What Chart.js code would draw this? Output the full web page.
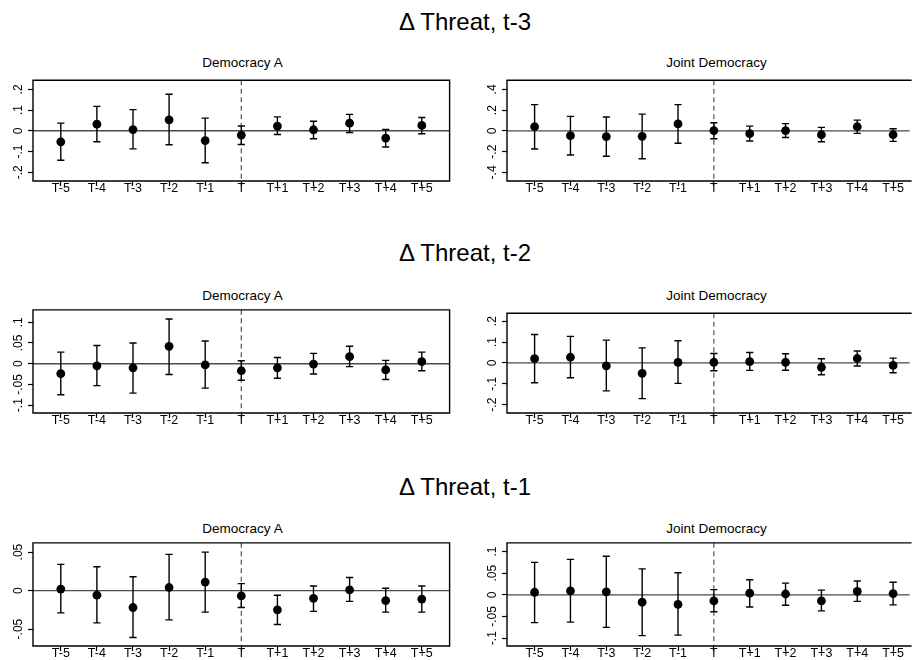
<!DOCTYPE html>
<html><head><meta charset="utf-8">
<script src="https://cdn.jsdelivr.net/npm/chart.js@4.4.1/dist/chart.umd.min.js"></script>
<style>
html,body{margin:0;padding:0;background:#fff;width:915px;height:660px;overflow:hidden;position:relative;font-family:"Liberation Sans",Arial,sans-serif;}
.rowt{position:absolute;width:400px;left:265px;text-align:center;font-size:24px;line-height:30px;color:#000;white-space:nowrap;}
.pt{position:absolute;width:300px;text-align:center;font-size:13.5px;line-height:16px;color:#000;white-space:nowrap;}
.pc{position:absolute;overflow:hidden;}
</style></head><body>
<script>
// ---------- data ----------
const eventTime = [-5,-4,-3,-2,-1,0,1,2,3,4,5];
const xLabels = ["T-5","T-4","T-3","T-2","T-1","T","T+1","T+2","T+3","T+4","T+5"];
const rowTitles = ["\u0394 Threat, t-3","\u0394 Threat, t-2","\u0394 Threat, t-1"];
const panelTitles = ["Democracy A","Joint Democracy"];

const demA_t3_est = [-0.053, 0.032, 0.006, 0.053, -0.047, -0.021, 0.023, 0.005, 0.037, -0.035, 0.026];
const demA_t3_lo  = [-0.142, -0.053, -0.087, -0.067, -0.154, -0.066, -0.018, -0.038, -0.008, -0.078, -0.014];
const demA_t3_hi  = [0.037, 0.118, 0.102, 0.176, 0.061, 0.023, 0.067, 0.046, 0.079, 0.006, 0.064];

const joint_t3_est = [0.040, -0.046, -0.055, -0.052, 0.067, 0.003, -0.027, 0.003, -0.037, 0.040, -0.037];
const joint_t3_lo  = [-0.174, -0.232, -0.244, -0.269, -0.119, -0.076, -0.098, -0.064, -0.104, -0.024, -0.101];
const joint_t3_hi  = [0.253, 0.140, 0.134, 0.162, 0.253, 0.079, 0.046, 0.070, 0.034, 0.104, 0.021];

const demA_t2_est = [-0.024, -0.005, -0.010, 0.042, -0.003, -0.017, -0.010, -0.001, 0.017, -0.015, 0.005];
const demA_t2_lo  = [-0.075, -0.053, -0.071, -0.026, -0.059, -0.040, -0.035, -0.025, -0.007, -0.038, -0.017];
const demA_t2_hi  = [0.028, 0.044, 0.050, 0.108, 0.055, 0.007, 0.015, 0.025, 0.042, 0.008, 0.028];

const joint_t2_est = [0.020, 0.027, -0.014, -0.050, 0.002, 0.003, 0.006, 0.003, -0.021, 0.021, -0.012];
const joint_t2_lo  = [-0.095, -0.071, -0.134, -0.171, -0.098, -0.038, -0.036, -0.035, -0.057, -0.015, -0.047];
const joint_t2_hi  = [0.136, 0.127, 0.109, 0.072, 0.106, 0.045, 0.050, 0.044, 0.020, 0.057, 0.023];

const demA_t1_est = [0.002, -0.006, -0.022, 0.004, 0.011, -0.007, -0.025, -0.010, 0.001, -0.013, -0.011];
const demA_t1_lo  = [-0.029, -0.042, -0.061, -0.038, -0.028, -0.022, -0.044, -0.027, -0.014, -0.028, -0.028];
const demA_t1_hi  = [0.034, 0.031, 0.018, 0.047, 0.050, 0.009, -0.006, 0.006, 0.017, 0.003, 0.006];

const joint_t1_est = [0.006, 0.009, 0.007, -0.017, -0.022, -0.014, 0.004, 0.002, -0.014, 0.008, 0.003];
const joint_t1_lo  = [-0.064, -0.063, -0.075, -0.094, -0.093, -0.039, -0.028, -0.024, -0.037, -0.015, -0.023];
const joint_t1_hi  = [0.075, 0.082, 0.089, 0.060, 0.051, 0.012, 0.035, 0.027, 0.011, 0.032, 0.029];

// y tick values and labels
const yTicks_demA_t3 = [-0.2,-0.1,0,0.1,0.2];   const yLabels_demA_t3 = ["-.2","-.1","0",".1",".2"];
const yTicks_joint_t3 = [-0.4,-0.2,0,0.2,0.4];  const yLabels_joint_t3 = ["-.4","-.2","0",".2",".4"];
const yTicks_demA_t2 = [-0.1,-0.05,0,0.05,0.1]; const yLabels_demA_t2 = ["-.1","-.05","0",".05",".1"];
const yTicks_joint_t2 = [-0.2,-0.1,0,0.1,0.2];  const yLabels_joint_t2 = ["-.2","-.1","0",".1",".2"];
const yTicks_demA_t1 = [-0.05,0,0.05];          const yLabels_demA_t1 = ["-.05","0",".05"];
const yTicks_joint_t1 = [-0.1,-0.05,0,0.05,0.1];const yLabels_joint_t1 = ["-.1","-.05","0",".05",".1"];

// ---------- layout ----------
const FONT = '"Liberation Sans", Arial, sans-serif';
const PADT = 4, XH = 24, YW = 33;
const rowBoxTop = [75, 308, 541];
const rowBoxH = [106, 105, 105];
const rowTitleY = [22, 253, 487];
const colLeft = [0, 474];
const colWidth = [455, 441];
const colPadRight = [3, 0];
const colXMax = [5.77, 5.46];
const colCut = [false, true];
const colTitleX = [242.5, 716.5];

const panels = [
  {row:0,col:0,est:demA_t3_est,lo:demA_t3_lo,hi:demA_t3_hi,ticks:yTicks_demA_t3,labels:yLabels_demA_t3,ymin:-0.242,ymax:0.244},
  {row:0,col:1,est:joint_t3_est,lo:joint_t3_lo,hi:joint_t3_hi,ticks:yTicks_joint_t3,labels:yLabels_joint_t3,ymin:-0.483,ymax:0.489},
  {row:1,col:0,est:demA_t2_est,lo:demA_t2_lo,hi:demA_t2_hi,ticks:yTicks_demA_t2,labels:yLabels_demA_t2,ymin:-0.119,ymax:0.130},
  {row:1,col:1,est:joint_t2_est,lo:joint_t2_lo,hi:joint_t2_hi,ticks:yTicks_joint_t2,labels:yLabels_joint_t2,ymin:-0.240,ymax:0.238},
  {row:2,col:0,est:demA_t1_est,lo:demA_t1_lo,hi:demA_t1_hi,ticks:yTicks_demA_t1,labels:yLabels_demA_t1,ymin:-0.072,ymax:0.062},
  {row:2,col:1,est:joint_t1_est,lo:joint_t1_lo,hi:joint_t1_hi,ticks:yTicks_joint_t1,labels:yLabels_joint_t1,ymin:-0.118,ymax:0.120}
];

// titles
rowTitles.forEach((t,r)=>{
  const d=document.createElement('div'); d.className='rowt'; d.textContent=t;
  d.style.top=(rowTitleY[r]-15)+'px'; document.body.appendChild(d);
});
for(let r=0;r<3;r++){
  panelTitles.forEach((t,c)=>{
    const d=document.createElement('div'); d.className='pt'; d.textContent=t;
    d.style.left=(colTitleX[c]-150)+'px'; d.style.top=(rowBoxTop[r]-11.6-8)+'px';
    document.body.appendChild(d);
  });
}

const measCtx = document.createElement('canvas').getContext('2d');
measCtx.font = '12px ' + FONT;

const framePlugin = {
  id:'frame',
  beforeDatasetsDraw(chart){
    const {ctx, chartArea:a, scales:{x,y}} = chart;
    ctx.save();
    const y0 = y.getPixelForValue(0);
    ctx.strokeStyle='#4a4a4a'; ctx.lineWidth=1.4;
    ctx.beginPath(); ctx.moveTo(a.left,y0); ctx.lineTo(a.right,y0); ctx.stroke();
    const x0 = x.getPixelForValue(0);
    ctx.setLineDash([5,3.5]); ctx.strokeStyle='#555'; ctx.lineWidth=1.2;
    ctx.beginPath(); ctx.moveTo(x0,a.top); ctx.lineTo(x0,a.bottom); ctx.stroke();
    ctx.restore();
  },
  afterDraw(chart){
    const {ctx, chartArea:a} = chart;
    const cut = chart.options.plugins.frame && chart.options.plugins.frame.cut;
    ctx.save(); ctx.strokeStyle='#000'; ctx.lineWidth=1.4;
    ctx.beginPath();
    if (cut) {
      ctx.moveTo(a.right+2,a.top); ctx.lineTo(a.left,a.top); ctx.lineTo(a.left,a.bottom); ctx.lineTo(a.right+2,a.bottom);
    } else {
      ctx.rect(a.left,a.top,a.right-a.left,a.bottom-a.top);
    }
    ctx.stroke();
    ctx.restore();
  }
};

panels.forEach(p=>{
  const CW = colWidth[p.col];
  const wrap=document.createElement('div'); wrap.className='pc';
  const H = PADT + rowBoxH[p.row] + XH;
  wrap.style.left=colLeft[p.col]+'px'; wrap.style.top=(rowBoxTop[p.row]-PADT)+'px';
  wrap.style.width=CW+'px'; wrap.style.height=H+'px';
  const cv=document.createElement('canvas'); cv.width=CW; cv.height=H;
  cv.style.width=CW+'px'; cv.style.height=H+'px';
  wrap.appendChild(cv); document.body.appendChild(wrap);

  const pts = p.est.map((v,i)=>({x:eventTime[i], y:v}));
  const bars = [];
  p.lo.forEach((l,i)=>{ bars.push({x:eventTime[i],y:l},{x:eventTime[i],y:p.hi[i]},{x:eventTime[i],y:null}); });

  let widest = 0; p.labels.forEach(s=>{ widest=Math.max(widest, measCtx.measureText(s).width); });
  const ypad = (YW - 5 - 19) - widest/2;

  new Chart(cv, {
    type:'scatter',
    data:{datasets:[
      {type:'scatter', data:pts, pointRadius:4.4, pointBackgroundColor:'#000', pointBorderColor:'#000', pointBorderWidth:0, order:0},
      {type:'line', data:bars, showLine:true, spanGaps:false, borderColor:'#000', borderWidth:1.4, fill:false,
       pointStyle:'line', pointRadius:3.6, pointBorderWidth:1.4, pointBorderColor:'#000', pointBackgroundColor:'#000', order:1}
    ]},
    options:{
      responsive:false, animation:false, devicePixelRatio:1, events:[],
      layout:{padding:{left:0,right:colPadRight[p.col],top:PADT,bottom:0}},
      plugins:{legend:{display:false}, tooltip:{enabled:false}, title:{display:false}, frame:{cut:colCut[p.col]}},
      scales:{
        x:{type:'linear', min:-5.77, max:colXMax[p.col],
           afterBuildTicks:s=>{ s.ticks = eventTime.map(v=>({value:v})); },
           afterFit:s=>{ s.height = XH; },
           ticks:{autoSkip:false, minRotation:0, maxRotation:0, padding:-5, color:'#000',
                  font:{family:FONT, size:12.5}, callback:(v,i)=>xLabels[i]},
           grid:{drawOnChartArea:false, drawTicks:true, tickLength:5, tickColor:'#000', tickWidth:1.2},
           border:{display:false}},
        y:{type:'linear', min:p.ymin, max:p.ymax,
           afterBuildTicks:s=>{ s.ticks = p.ticks.map(v=>({value:v})); },
           afterFit:s=>{ s.width = YW; },
           ticks:{autoSkip:false, minRotation:90, maxRotation:90, crossAlign:'center', padding:ypad, color:'#000',
                  font:{family:FONT, size:12}, callback:(v,i)=>p.labels[i]},
           grid:{drawOnChartArea:false, drawTicks:true, tickLength:5, tickColor:'#000', tickWidth:1.2},
           border:{display:false}}
      }
    },
    plugins:[framePlugin]
  });
});
</script>
</body></html>
